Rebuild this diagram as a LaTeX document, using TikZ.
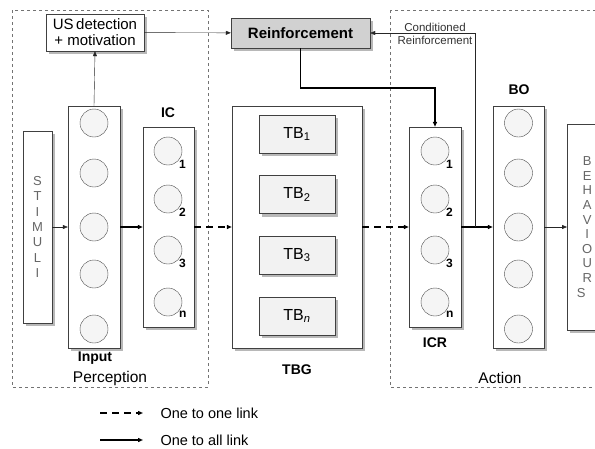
\documentclass[tikz,border=0pt]{standalone}
\usepackage{fontspec}
\setmainfont{Liberation Sans}
\usetikzlibrary{shadows,arrows.meta}
\tikzset{
  shade box/.style={draw=black!75,fill=white,inner sep=0pt,
    drop shadow={shadow xshift=3pt,shadow yshift=-3pt,fill=black!28,opacity=1}},
  column/.style={shade box,minimum width=52pt},
  neuron/.style={circle,draw=black!70,fill=black!4,minimum size=28pt,inner sep=0pt},
  tb box/.style={shade box,fill=black!5,minimum width=76pt,minimum height=38pt,font=\fontsize{16}{16}\selectfont},
  title/.style={font=\fontsize{14}{14}\selectfont\bfseries},
  idx/.style={font=\fontsize{12}{12}\selectfont\bfseries,inner sep=0pt},
  link/.style={-{Triangle[length=5pt,width=4pt]}},
  one to all/.style={link,line width=1.6pt},
  one to one/.style={link,line width=1.6pt,dash pattern=on 7pt off 5pt},
}
\begin{document}
\begin{tikzpicture}[x=1pt,y=-1pt]
\useasboundingbox[fill=white] (0,0) rectangle (595,448);
%% frames
\draw[dashed,black!55] (12,10) rectangle (208,387);
\draw[dashed,black!55] (390,10) rectangle (605,387);
\node[font=\fontsize{15.5}{15.5}\selectfont] (perc) at (110,378) {Perception};
\node[font=\fontsize{15.5}{15.5}\selectfont] (act) at (500,378) {Action};
%% top boxes
\node[shade box,minimum width=98pt,minimum height=37pt,align=center,
  font=\fontsize{15}{16}\selectfont] (us) at (95,32.5) {US\,detection\\+ motivation};
\node[shade box,fill=black!18,minimum width=139pt,minimum height=30pt,
  font=\fontsize{15}{15}\selectfont\bfseries] (reinf) at (300.5,33) {Reinforcement};
%% stimuli
\node[shade box,minimum width=29pt,minimum height=192pt,align=center,text=black!60,
  font=\fontsize{13}{15.3}\selectfont] (stim) at (37.5,227) {S\\T\\I\\M\\U\\L\\I};
%% input layer
\node[column,minimum height=242pt] (input) at (94,227) {};
\foreach \y [count=\i] in {123,173,227,274,329}
  \node[neuron] (in\i) at (94,\y) {};
\node[title] (inputlbl) at (95,358) {Input};
%% IC
\node[column,minimum width=51pt,minimum height=200pt] (ic) at (168.5,227) {};
\node[title] (iclbl) at (168,113) {IC};
\foreach \y/\s [count=\i] in {151/1,199/2,250/3,302/n}
  \node[neuron,label={[idx]-40:\s}] (ic\i) at (168,\y) {};
%% TBG
\node[column,minimum width=130pt,minimum height=242pt] (tbg) at (297,227) {};
\node[tb box] (tb1) at (297,134) {TB\textsubscript{1}};
\node[tb box] (tb2) at (297,194.5) {TB\textsubscript{2}};
\node[tb box] (tb3) at (297,255) {TB\textsubscript{3}};
\node[tb box] (tbn) at (297,316) {TB\textsubscript{\itshape n}};
\node[title] (tbglbl) at (297,370) {TBG};
%% ICR
\node[column,minimum height=200pt] (icr) at (435,227) {};
\node[title] (icrlbl) at (435,343) {ICR};
\foreach \y/\s [count=\i] in {151/1,199/2,250/3,302/n}
  \node[neuron,label={[idx]-40:\s}] (icr\i) at (435,\y) {};
%% BO
\node[column,minimum width=51pt,minimum height=242pt] (bo) at (518.5,227) {};
\node[title] (bolbl) at (519,90) {BO};
\foreach \y [count=\i] in {123,173,227,274,329}
  \node[neuron] (bo\i) at (518.5,\y) {};
%% behaviours
\node[shade box,minimum width=40pt,minimum height=206pt,text=black!60,anchor=west,
  align=center,font=\fontsize{13}{14.6}\selectfont] (behav) at (567,227)
  {B\\E\\H\\A\\V\\I\\O\\U\\R\\S\hspace*{12pt}};
%% links
\draw[link,black!85] (stim) -- (input);
\draw[one to all] (input) -- (ic);
\draw[one to one] (ic) -- (tbg);
\draw[one to one] (tbg) -- (icr);
\draw[one to all] (icr) -- (bo);
\draw[link,black!85] (bo) -- (behav);
\draw[link,black!85] (input.north) -- (us.south);
\draw[link,black!85] (us) -- (reinf);
\draw[one to all] (reinf.south) -- ++(0,40) -| (icr.north);
%% conditioned reinforcement
\coordinate (cr) at (475,227);
\draw[link,black!85] (cr) |- (reinf.east);
\node[align=center,text=black!80,font=\fontsize{11.5}{13}\selectfont] (crlbl) at (435,34)
  {Conditioned\\Reinforcement};
%% legend
\coordinate (l1a) at (100,413); \coordinate (l1b) at (143,413);
\coordinate (l2a) at (100,440); \coordinate (l2b) at (143,440);
\draw[one to one,line width=1.3pt] (l1a) -- (l1b);
\draw[one to all,line width=1.3pt] (l2a) -- (l2b);
\node[anchor=west,font=\fontsize{14.5}{14.5}\selectfont] (leg1) at (157,413) {One to one link};
\node[anchor=west,font=\fontsize{14.5}{14.5}\selectfont] (leg2) at (157,440) {One to all link};
\end{tikzpicture}
\end{document}
